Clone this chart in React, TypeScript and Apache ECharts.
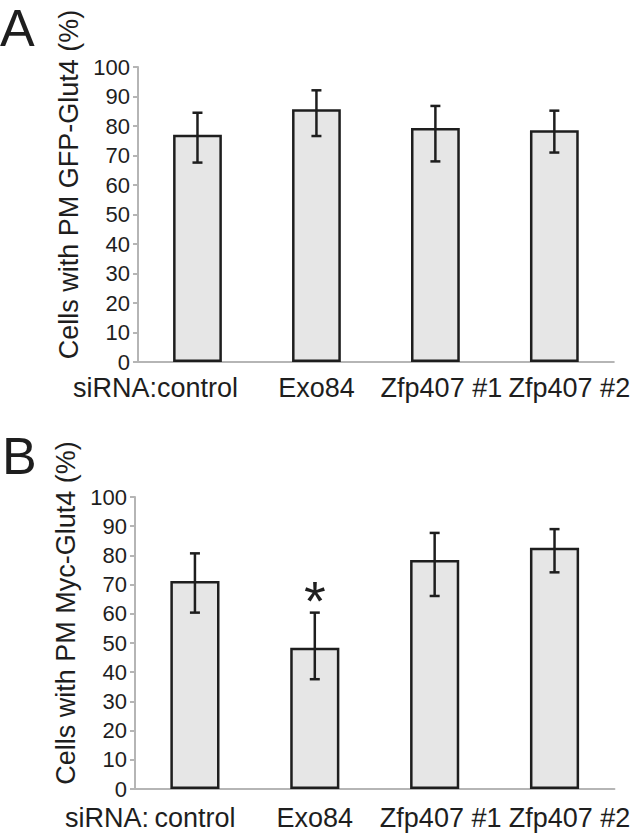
import React, { useEffect, useRef } from "react";
import * as echarts from "echarts";

const categories = ["control", "Exo84", "Zfp407 #1", "Zfp407 #2"];
const yTicks = { min: 0, max: 100, interval: 10 };

// Panel A: Cells with PM GFP-Glut4 (%)
const meanA = [77, 85.7, 79.3, 78.6];
const errLowA = [67.6, 76.6, 68.0, 71.0];
const errHighA = [84.5, 92.1, 86.8, 85.2];
const sigA = ["", "", "", ""];

// Panel B: Cells with PM Myc-Glut4 (%)
const meanB = [71.2, 48.4, 78.4, 82.6];
const errLowB = [60.4, 37.6, 66.1, 74.2];
const errHighB = [80.7, 60.4, 87.7, 89.0];
const sigB = ["", "*", "", ""];

const FONT = "'Liberation Sans', Arial, Helvetica, sans-serif";
const DARK = "#1e1e1e";
const AXIS = "#b5b5b5";
const labelShift = [0, 0, 12, 30];

function errData(low: number[], high: number[]) {
  return categories.map((_, i) => [i, low[i], high[i]]);
}

function makeRenderErr(sig: string[]) {
  return function (params: any, api: any) {
    const idx = api.value(0);
    const lo = api.coord([idx, api.value(1)]);
    const hi = api.coord([idx, api.value(2)]);
    const mark = sig[params.dataIndex];
    const cap = 5;
    const style = { stroke: DARK, lineWidth: 2.5 };
    const children: any[] = [
      { type: "line", shape: { x1: lo[0], y1: lo[1], x2: hi[0], y2: hi[1] }, style },
      { type: "line", shape: { x1: lo[0] - cap, y1: lo[1], x2: lo[0] + cap, y2: lo[1] }, style },
      { type: "line", shape: { x1: hi[0] - cap, y1: hi[1], x2: hi[0] + cap, y2: hi[1] }, style },
    ];
    if (mark) {
      children.push({
        type: "text",
        x: hi[0],
        y: hi[1] - 12,
        style: {
          text: mark,
          fill: DARK,
          font: `56px ${FONT}`,
          textAlign: "center",
          textVerticalAlign: "middle",
        },
      });
    }
    return { type: "group", children };
  };
}

const rich: any = {};
labelShift.forEach((s, i) => {
  rich["s" + i] = { fontSize: 27, fontFamily: FONT, color: DARK, padding: [0, 0, 0, s] };
});

function axisPair(gridIndex: number, name: string, labelMargin: number) {
  const x = {
    type: "category",
    gridIndex,
    data: categories,
    axisLine: { lineStyle: { color: AXIS, width: 2 } },
    axisTick: { length: 5, lineStyle: { color: AXIS, width: 2 } },
    axisLabel: {
      interval: 0,
      color: DARK,
      fontSize: 27,
      fontFamily: FONT,
      margin: labelMargin,
      formatter: (v: string, i: number) => `{s${i}|${v}}`,
      rich,
    },
  };
  const y = {
    type: "value",
    gridIndex,
    min: yTicks.min,
    max: yTicks.max,
    interval: yTicks.interval,
    name,
    nameLocation: "middle",
    nameGap: 54,
    nameTextStyle: { color: DARK, fontSize: 27, fontFamily: FONT, padding: [0, 0, 0, 60] },
    splitLine: { show: false },
    axisLine: { show: true, lineStyle: { color: AXIS, width: 2 } },
    axisTick: { show: true, length: 5, lineStyle: { color: AXIS, width: 2 } },
    axisLabel: { color: DARK, fontSize: 22, fontFamily: FONT, margin: 8 },
  };
  return { x, y };
}

export default function App() {
  const ref = useRef<HTMLDivElement>(null);
  useEffect(() => {
    if (!ref.current) return;
    const chart = echarts.init(ref.current, undefined, { renderer: "svg" });
    const a = axisPair(0, "Cells with PM GFP-Glut4 (%)", 12);
    const b = axisPair(1, "Cells with PM Myc-Glut4 (%)", 15);
    const barStyle = { color: "#e6e6e6", borderColor: DARK, borderWidth: 2.5 };
    chart.setOption({
      animation: false,
      backgroundColor: "#ffffff",
      grid: [
        { left: 138, right: 18, top: 67, height: 295 },
        { left: 135, right: 16, top: 497, height: 292 },
      ],
      xAxis: [a.x, b.x],
      yAxis: [a.y, b.y],
      graphic: [
        { type: "text", left: 0, top: 2, style: { text: "A", font: `52px ${FONT}`, fill: DARK } },
        { type: "text", left: 2, top: 430, style: { text: "B", font: `52px ${FONT}`, fill: DARK } },
        { type: "text", x: 157, y: 374, style: { text: "siRNA:", font: `27px ${FONT}`, fill: DARK, textAlign: "right" } },
        { type: "text", x: 149, y: 804, style: { text: "siRNA:", font: `27px ${FONT}`, fill: DARK, textAlign: "right" } },
      ],
      series: [
        { type: "bar", xAxisIndex: 0, yAxisIndex: 0, data: meanA, barWidth: "41%", itemStyle: barStyle },
        {
          type: "custom", xAxisIndex: 0, yAxisIndex: 0, renderItem: makeRenderErr(sigA),
          data: errData(errLowA, errHighA), encode: { x: 0, y: [1, 2] }, z: 5,
        },
        { type: "bar", xAxisIndex: 1, yAxisIndex: 1, data: meanB, barWidth: "41%", itemStyle: barStyle },
        {
          type: "custom", xAxisIndex: 1, yAxisIndex: 1, renderItem: makeRenderErr(sigB),
          data: errData(errLowB, errHighB), encode: { x: 0, y: [1, 2] }, z: 5,
        },
      ],
    });
    return () => chart.dispose();
  }, []);
  return (
    <div
      ref={ref}
      style={{ position: "fixed", left: 0, top: 0, width: 633, height: 836, background: "#fff" }}
    />
  );
}
